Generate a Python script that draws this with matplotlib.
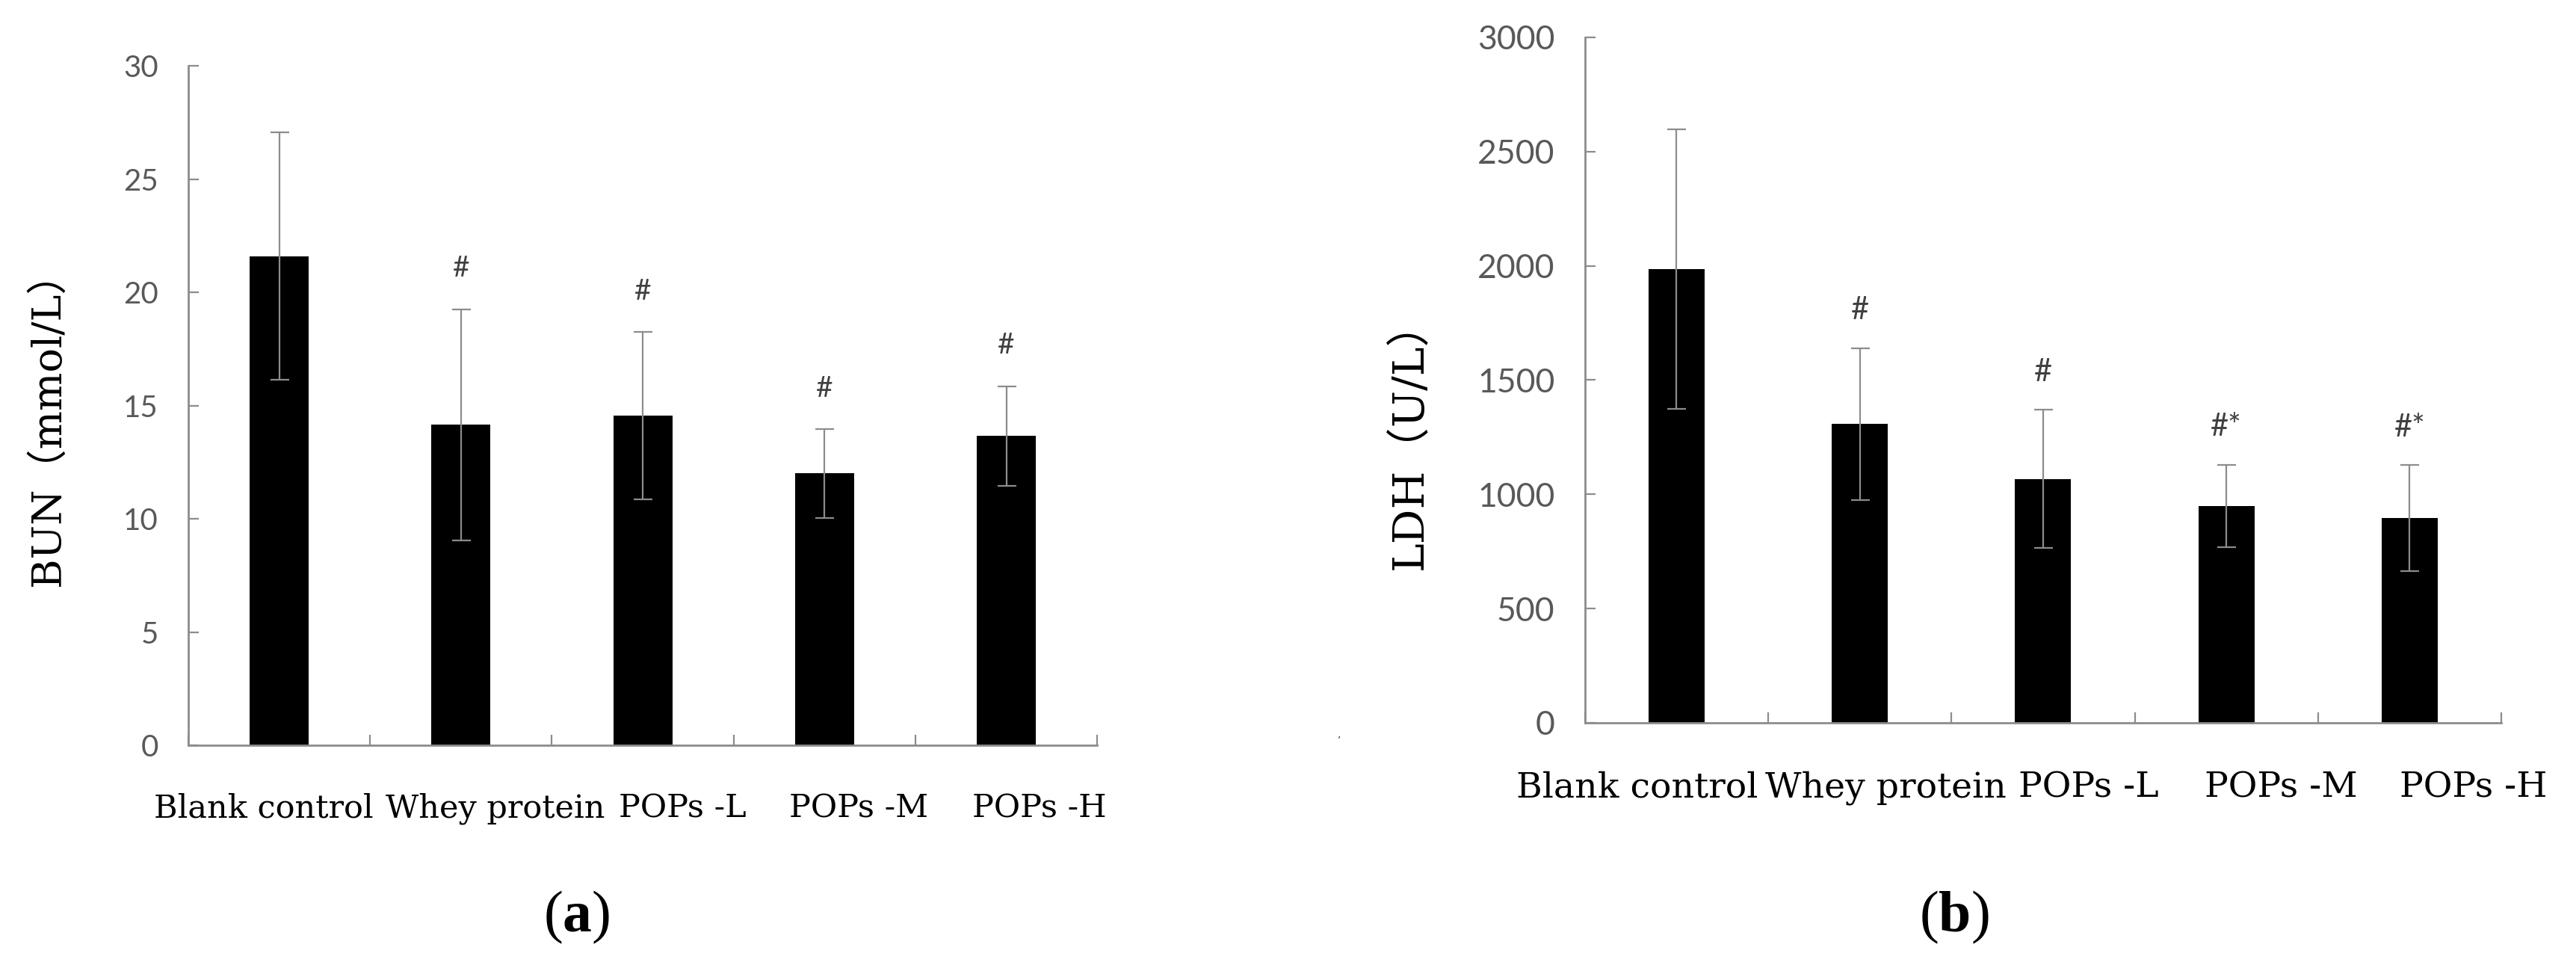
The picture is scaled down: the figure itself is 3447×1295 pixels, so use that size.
import numpy as np
import matplotlib
matplotlib.use('Agg')
import matplotlib.pyplot as plt

# data
groups = ['Blank control', 'Whey protein', 'POPs -L', 'POPs -M', 'POPs -H']

bun_mean = [21.6, 14.15, 14.55, 12.0, 13.65]
bun_sd = [5.45, 5.1, 3.7, 1.95, 2.2]
bun_marks = ['', '#', '#', '#', '#']

ldh_mean = [1986, 1308, 1068, 950, 895]
ldh_sd = [611, 332, 302, 180, 232]
ldh_marks = ['', '#', '#', '#*', '#*']

plt.rcParams['mathtext.fontset'] = 'custom'
plt.rcParams['mathtext.bf'] = 'Liberation Serif:bold'
plt.rcParams['mathtext.rm'] = 'Liberation Serif'

axis_grey = '#8c8c8c'
tick_grey = '#595959'

fig = plt.figure(figsize=(34.48, 12.95), dpi=100)


def panel(rect, means, sds, marks, ymax, ystep, ylabel, label_pos,
          tick_fs, xlab_fs, ylab_fs, ylab_coords, bar_w, mark_gap, mark_fs):
    ax = fig.add_axes(rect)
    x = np.arange(len(means))
    ax.bar(x, means, width=bar_w, color='black', zorder=2)
    ax.errorbar(x, means, yerr=sds, fmt='none', ecolor=axis_grey,
                elinewidth=1.6, capsize=9, capthick=1.6, zorder=3)
    for xi, m, s, t in zip(x, means, sds, marks):
        if t:
            ax.text(xi, m + s + mark_gap, t, ha='center', va='center',
                    fontsize=mark_fs, color='#404040', family='Lato')

    ax.set_xlim(-0.5, len(means) - 0.5)
    ax.set_ylim(0, ymax)
    ax.set_yticks(np.arange(0, ymax + 1, ystep))
    ax.set_xticks(np.arange(-0.5, len(means), 1.0))
    ax.set_xticklabels([])
    ax.set_xticks(label_pos, minor=True)
    ax.set_xticklabels(groups, minor=True, family='DejaVu Serif',
                       fontsize=xlab_fs, color='black')
    ax.tick_params(axis='x', which='minor', length=0, pad=46)
    ax.tick_params(axis='x', which='major', direction='in', length=10,
                   width=1.6, color=axis_grey)
    ax.tick_params(axis='y', direction='in', length=10, width=1.6,
                   color=axis_grey, pad=29, labelsize=tick_fs,
                   labelcolor=tick_grey)
    for lab in ax.get_yticklabels():
        lab.set_family('Lato')

    for side in ['top', 'right']:
        ax.spines[side].set_visible(False)
    for side in ['left', 'bottom']:
        ax.spines[side].set_color(axis_grey)
        ax.spines[side].set_linewidth(2.0)

    ax.set_ylabel(ylabel, fontsize=ylab_fs,
                  family=['DejaVu Serif', 'Noto Sans CJK SC'])
    ax.yaxis.set_label_coords(*ylab_coords)
    return ax


panel([0.0731, 0.2301, 0.3527, 0.7019], bun_mean, bun_sd, bun_marks,
      30, 5, 'BUN（mmol/L）', [-0.085, 1.19, 2.22, 3.19, 4.18],
      29, 31, 39, (-0.133, 0.48), 0.325, 1.8, 28)

panel([0.6151, 0.2533, 0.3556, 0.7081], ldh_mean, ldh_sd, ldh_marks,
      3000, 500, 'LDH（U/L）', [-0.217, 1.14, 2.25, 3.30, 4.35],
      32, 34, 42, (-0.168, 0.42), 0.306, 165, 30)

fig.text(0.2239, 0.0525, r'($\mathbf{a}$)', ha='center', va='center',
         fontsize=56, family='Liberation Serif')
fig.text(0.7584, 0.0525, r'($\mathbf{b}$)', ha='center', va='center',
         fontsize=56, family='Liberation Serif')
fig.text(1792 / 3448, 1 - 982 / 1295, ',', ha='center', va='center',
         fontsize=10, color='#333333')

fig.savefig('out.png', dpi=100)
